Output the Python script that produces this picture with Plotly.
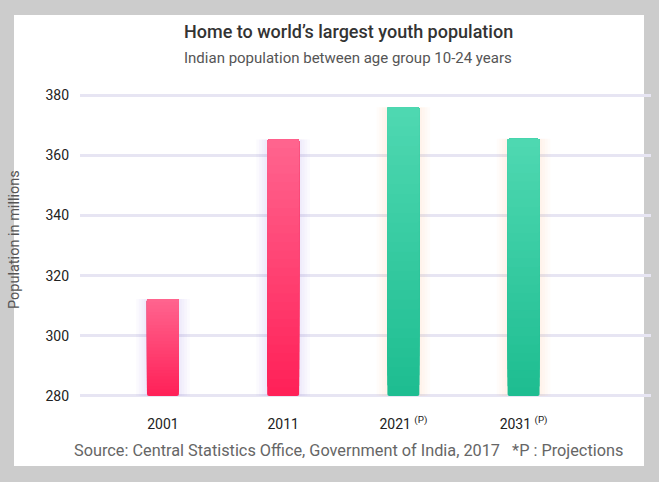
import plotly.graph_objects as go

# ---- data ----
years = ["2001", "2011", "2021", "2031"]
tick_labels = ["2001", "2011", "2021 <sup>(P)</sup>", "2031 <sup>(P)</sup>"]
population = [312.2, 365.2, 375.9, 365.5]
is_projection = [False, False, True, True]
y_ticks = [280, 300, 320, 340, 360, 380]

title = "Home to world’s largest youth population"
subtitle = "Indian population between age group 10-24 years"
y_title = "Population in millions"
source = "Source: Central Statistics Office, Government of India, 2017   *P : Projections"

# ---- style ----
W, H = 659, 482
L, R, T, B = 80, 8, 89, 80
y_lo, y_hi = 278, 382
y_base = 280
bar_w = 0.266
pink_bottom, pink_top = (255, 33, 88), (255, 102, 144)
green_bottom, green_top = (30, 189, 145), (80, 217, 178)
N = 30

def mix(a, b, t):
    return "rgb(%d,%d,%d)" % tuple(round(a[i] + (b[i] - a[i]) * t) for i in range(3))

fig = go.Figure()

# soft glow behind bars
for k in range(4, 0, -1):
    fig.add_trace(go.Bar(
        x=years, y=[v - y_base for v in population], base=y_base,
        width=bar_w + k * 0.045,
        marker=dict(color=["rgba(255,170,130,0.04)" if p else "rgba(150,140,240,0.04)"
                           for p in is_projection], line=dict(width=0)),
        hoverinfo="skip", showlegend=False,
    ))

# gradient bars: overlapping segments from bottom to top
for k in range(N):
    t = k / N
    bases = [y_base + (v - y_base) * t for v in population]
    fig.add_trace(go.Bar(
        x=years, y=[v - b for v, b in zip(population, bases)], base=bases,
        width=bar_w,
        marker=dict(color=[mix(green_bottom, green_top, t) if p else mix(pink_bottom, pink_top, t)
                           for p in is_projection], line=dict(width=0), cornerradius=2),
        hoverinfo="skip", showlegend=False,
    ))

pw, ph = W - L - R, H - T - B

def px(x):
    return (x - L) / pw

def py(y):
    return (H - B - y) / ph

fig.update_layout(
    width=W, height=H,
    margin=dict(l=L, r=R, t=T, b=B),
    paper_bgcolor="#cccccc",
    plot_bgcolor="rgba(0,0,0,0)",
    barmode="overlay",
    showlegend=False,
    font=dict(family="Roboto", color="#222"),
    shapes=[dict(type="rect", xref="paper", yref="paper",
                 x0=px(14), x1=px(644), y0=py(466), y1=py(15),
                 fillcolor="white", line=dict(width=0), layer="below")],
    xaxis=dict(type="category", range=[-0.69, 4.06], tickvals=years, ticktext=tick_labels,
               showgrid=False, zeroline=False, showline=False, ticks="",
               ticklabelstandoff=12, tickfont=dict(size=14, color="#222")),
    yaxis=dict(range=[y_lo, y_hi], tickvals=y_ticks,
               showgrid=True, gridcolor="#e7e5f3", gridwidth=2.5, zeroline=False,
               showline=False, ticks="", ticklabelstandoff=10,
               tickfont=dict(size=14, color="#222")),
    annotations=[
        dict(text=title, xref="paper", yref="paper", x=px(348), y=py(32),
             xanchor="center", yanchor="middle", showarrow=False,
             font=dict(size=18, color="#333", weight=500)),
        dict(text=subtitle, xref="paper", yref="paper", x=px(348), y=py(58),
             xanchor="center", yanchor="middle", showarrow=False,
             font=dict(size=15, color="#555")),
        dict(text=y_title, xref="paper", yref="paper", x=px(14), y=py(240),
             xanchor="center", yanchor="middle", textangle=-90, showarrow=False,
             font=dict(size=14.5, color="#555")),
        dict(text=source, xref="paper", yref="paper", x=px(348), y=py(450),
             xanchor="center", yanchor="middle", showarrow=False,
             font=dict(size=16.3, color="#666")),
    ],
)

fig.write_html("out.html", config={"displayModeBar": False},
               post_script="document.body.style.margin='0';")
